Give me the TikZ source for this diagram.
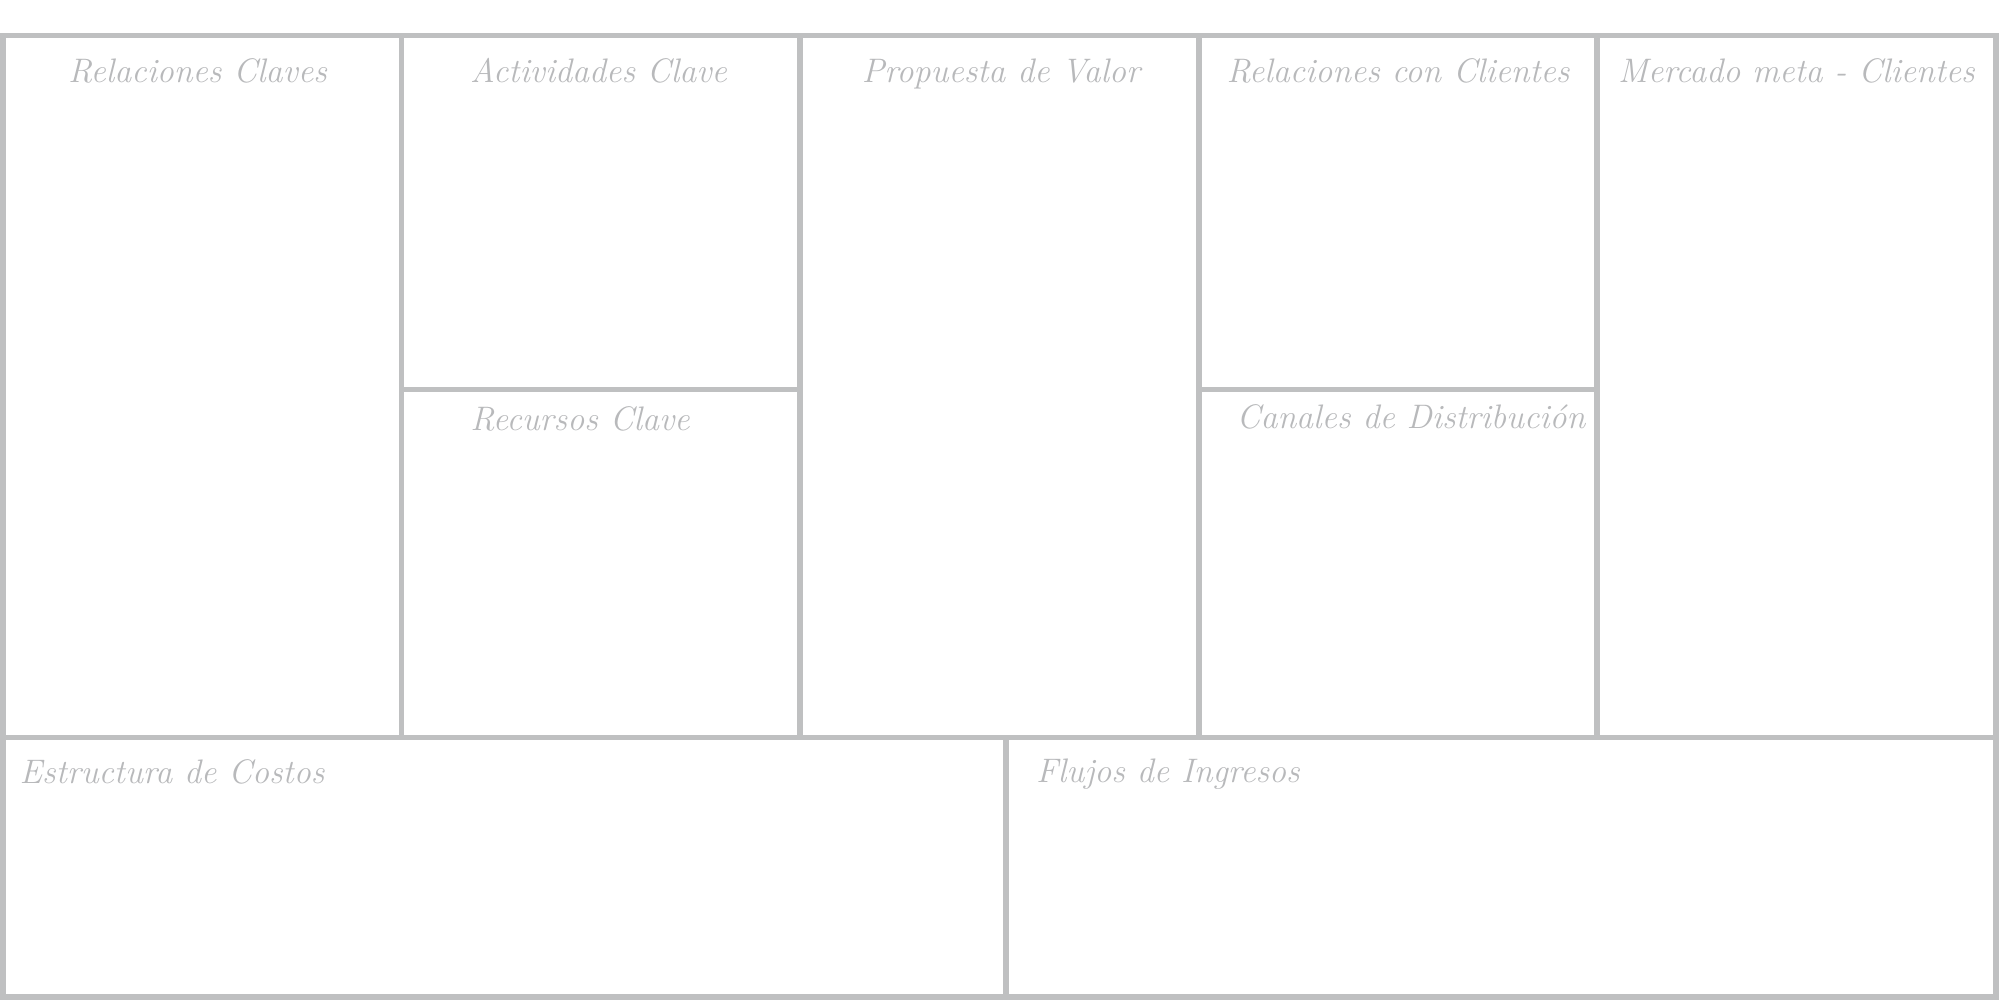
\documentclass[tikz,border=0pt]{standalone}
\definecolor{gridgray}{HTML}{BFC0C1}
\definecolor{textgray}{HTML}{B8B9BB}
\tikzset{
  cell/.style={draw=gridgray, line width=5.5pt},
  divider/.style={draw=gridgray, line width=5.5pt},
  title/.style={text=textgray, font=\fontsize{34}{40}\selectfont\itshape, anchor=base, inner sep=0pt}
}
\begin{document}
\begin{tikzpicture}[x=1pt,y=-1pt]
\useasboundingbox (0,0) rectangle (2000,1000);
% grid
\draw[cell] (3,35.5) rectangle (1996,997);
\draw[divider] (401.5,35.5) -- (401.5,737.5);
\draw[divider] (800,35.5) -- (800,737.5);
\draw[divider] (1199,35.5) -- (1199,737.5);
\draw[divider] (1597,35.5) -- (1597,737.5);
\draw[divider] (401.5,389.5) -- (800,389.5);
\draw[divider] (1199,389.5) -- (1597,389.5);
\draw[divider] (3,737.5) -- (1996,737.5);
\draw[divider] (1006,737.5) -- (1006,997);
% titles
\node[title] (t1) at (197.5,83) {Relaciones Claves};
\node[title] (t2) at (598.5,83) {Actividades Clave};
\node[title] (t3) at (1001,83) {Propuesta de Valor};
\node[title] (t4) at (1398,83) {Relaciones con Clientes};
\node[title] (t5) at (1796.5,83) {Mercado meta - Clientes};
\node[title] (t6) at (580,430) {Recursos Clave};
\node[title] (t7) at (1411,428) {Canales de Distribución};
\node[title] (t8) at (172,783) {Estructura de Costos};
\node[title] (t9) at (1168,782) {Flujos de Ingresos};
\end{tikzpicture}
\end{document}
